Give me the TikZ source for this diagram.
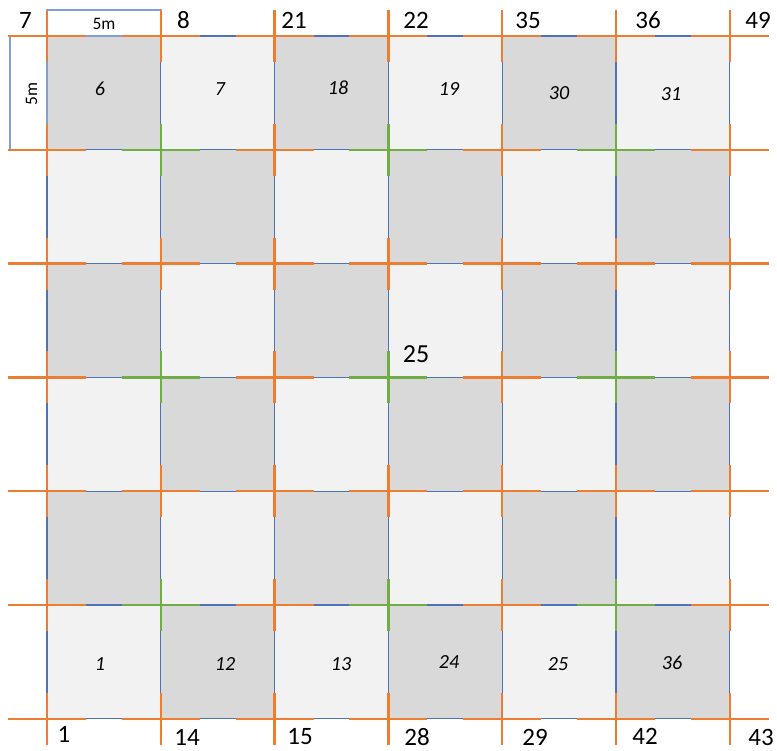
\documentclass[tikz,border=0pt]{standalone}
\usepackage{fontspec}
\setmainfont{Carlito}
\usetikzlibrary{positioning}
\definecolor{gridblue}{HTML}{4F72B8}
\definecolor{dimblue}{HTML}{7F9FD6}
\definecolor{crossorange}{HTML}{ED7D31}
\definecolor{crossgreen}{HTML}{70AD47}
\definecolor{darkcell}{HTML}{D9D9D9}
\definecolor{lightcell}{HTML}{F2F2F2}
\begin{document}
\begin{tikzpicture}[x=1pt,y=-1pt,
	cellline/.style={draw=gridblue, line width=1.3pt},
	dimline/.style={draw=dimblue, line width=1.1pt},
	crossline/.style={line width=2.5pt},
	corner/.style={font=\fontsize{25}{30}\selectfont, inner sep=0pt},
	cellno/.style={font=\fontsize{20}{24}\selectfont\itshape, inner sep=0pt},
	dimtext/.style={font=\fontsize{17.5}{21}\selectfont, inner sep=0pt}]
	\useasboundingbox (0,0) rectangle (777,751);
	\def\cs{113.8}
	% checker cells
	\foreach \i in {0,...,5}
	\foreach \j in {0,...,5}{
		\pgfmathtruncatemacro\k{\i+\j}
		\ifodd\k \def\fc{lightcell}\else\def\fc{darkcell}\fi
		\filldraw[fill=\fc, cellline] ({47+\i*\cs},{36+\j*\cs}) rectangle ++(\cs,\cs);
	}
	% 5m boxes
	\draw[dimline] (47,10) rectangle (161,36);
	\draw[dimline] (10,36) rectangle (47,150);
	\node[dimtext] (dimtop) at (104,24) {5m};
	\node[dimtext, rotate=90] (dimleft) at (31.5,94) {5m};
	% crosses at grid points
	\foreach \i in {0,...,6}
	\foreach \j in {0,...,6}{
		\pgfmathtruncatemacro\g{and(isodd(\i),isodd(\j))}
		\ifnum\g=1 \def\cc{crossgreen}\else\def\cc{crossorange}\fi
		\coordinate (p\i\j) at ({47+\i*\cs},{36+\j*\cs});
		\draw[crossline, draw=\cc] ([xshift=-39pt]p\i\j) -- ([xshift=39pt]p\i\j)
			([yshift=26pt]p\i\j) -- ([yshift=-26pt]p\i\j);
	}
	% point numbers
	\foreach \x/\y/\t in {25.5/20/7, 183.5/20/8, 294/20/21, 416/20/22, 528/20/35, 648/20/36, 758/20/49}
		\node[corner] (top\t) at (\x,\y) {\t};
	\foreach \x/\y/\t in {64/734/1, 187/737/14, 300/737/15, 417/737/28, 535/737/29, 645/736/42, 761/737/43}
		\node[corner] (bot\t) at (\x,\y) {\t};
	\node[corner, font=\fontsize{26}{31}\selectfont] (mid25) at (416,354) {25};
	% cell numbers
	\foreach \x/\y/\t in {100/89/6, 220/89/7, 338/88/18, 449/89/19, 559/93/30, 671/94/31,
		100/664/1, 225/664/12, 341/664/13, 449/662/24, 558/664/25, 672/663/36}
		\node[cellno] (cell\t) at (\x,\y) {\t};
\end{tikzpicture}
\end{document}
